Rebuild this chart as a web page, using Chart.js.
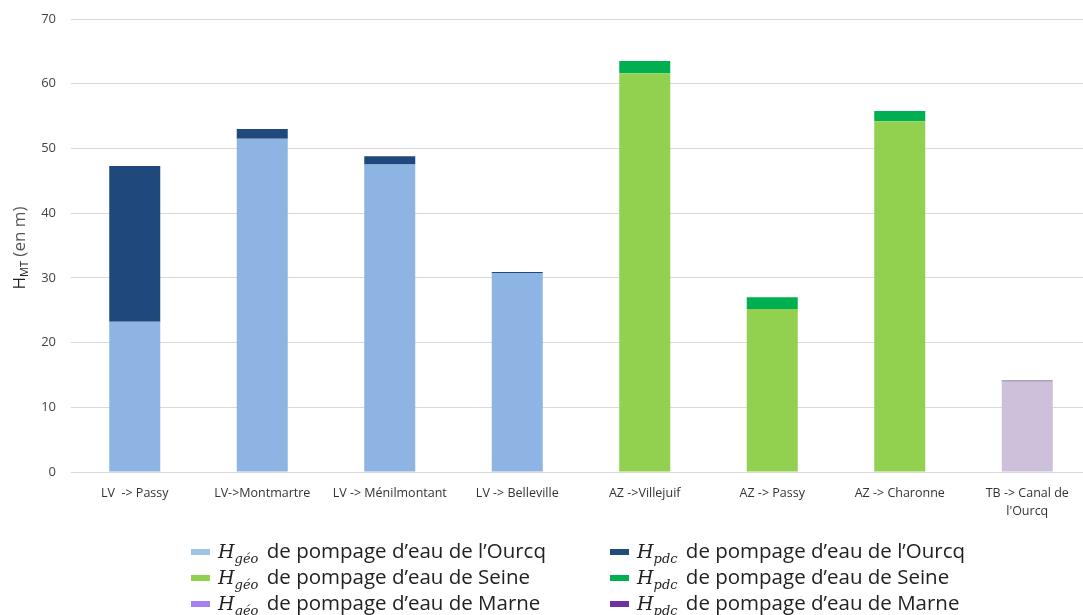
<!DOCTYPE html>
<html>
<head>
<meta charset="utf-8">
<script src="https://cdn.jsdelivr.net/npm/chart.js@4"></script>
<style>
body{margin:0;background:#fff;overflow:hidden;}
#wrap{position:relative;width:1083px;height:615px;overflow:hidden;}
#c{position:absolute;left:0;top:0;}
.leg{position:absolute;font-family:"Open Sans",sans-serif;font-size:20.5px;color:#222;white-space:nowrap;line-height:26px;}
.leg div{height:26px;}
.leg span.m{display:inline-block;width:19px;height:6px;margin-right:8px;vertical-align:middle;position:relative;top:-1px;}
.leg i{font-family:"DejaVu Serif",serif;font-size:19px;}
.leg sub{font-family:"DejaVu Serif",serif;font-style:italic;font-size:13px;margin-right:3px;}
</style>
</head>
<body>
<div id="wrap">
<canvas id="c" width="1095" height="615"></canvas>
<div class="leg" style="left:191px;top:537px;">
<div><span class="m" style="background:#9dc3e6"></span><i>H</i><sub>géo</sub> de pompage d’eau de l’Ourcq</div>
<div><span class="m" style="background:#92d050"></span><i>H</i><sub>géo</sub> de pompage d’eau de Seine</div>
<div><span class="m" style="background:#a680f0"></span><i>H</i><sub>géo</sub> de pompage d’eau de Marne</div>
</div>
<div class="leg" style="left:610px;top:537px;">
<div><span class="m" style="background:#1f4e79"></span><i>H</i><sub>pdc</sub> de pompage d’eau de l’Ourcq</div>
<div><span class="m" style="background:#00b050"></span><i>H</i><sub>pdc</sub> de pompage d’eau de Seine</div>
<div><span class="m" style="background:#7030a0"></span><i>H</i><sub>pdc</sub> de pompage d’eau de Marne</div>
</div>
</div>
<script>

const categories = ["LV  -> Passy","LV->Montmartre","LV -> Ménilmontant","LV -> Belleville","AZ ->Villejuif","AZ -> Passy","AZ -> Charonne",["TB -> Canal de","l'Ourcq"]];

const geoOurcq = [23.2,51.5,47.5,30.75,null,null,null,null];
const pdcOurcq = [24.1,1.5,1.3,0.15,null,null,null,null];
const geoSeine = [null,null,null,null,61.6,25.2,54.2,null];
const pdcSeine = [null,null,null,null,1.9,1.8,1.6,null];
const geoMarne = [null,null,null,null,null,null,null,14.0];
const pdcMarne = [null,null,null,null,null,null,null,0.15];

const yTicks = [0,10,20,30,40,50,60,70];

// y axis title with subscript
const yTitle = {
id:"yTitle",
afterDraw(chart){
const ctx = chart.ctx;
ctx.save();
ctx.translate(20,248);
ctx.rotate(-Math.PI/2);
ctx.fillStyle="#222";
ctx.textBaseline="middle";
ctx.font='17px "Open Sans", sans-serif';
let w1 = ctx.measureText("H").width;
ctx.font='11px "Open Sans", sans-serif';
let w2 = ctx.measureText("MT").width;
ctx.font='17px "Open Sans", sans-serif';
let w3 = ctx.measureText(" (en m)").width;
let x = -(w1+w2+w3)/2;
ctx.fillText("H",x,0);
ctx.font='11px "Open Sans", sans-serif';
ctx.fillText("MT",x+w1,5);
ctx.font='17px "Open Sans", sans-serif';
ctx.fillStyle="#555";
ctx.fillText(" (en m)",x+w1+w2,0);
ctx.restore();
}
};

new Chart(document.getElementById("c"),{
type:"bar",
data:{
labels:categories,
datasets:[
{label:"geoOurcq",data:geoOurcq,backgroundColor:"#8eb4e3"},
{label:"pdcOurcq",data:pdcOurcq,backgroundColor:"#1f497d"},
{label:"geoSeine",data:geoSeine,backgroundColor:"#92d050"},
{label:"pdcSeine",data:pdcSeine,backgroundColor:"#00b050"},
{label:"geoMarne",data:geoMarne,backgroundColor:"#ccc0da"},
{label:"pdcMarne",data:pdcMarne,backgroundColor:"#5f4a6e"}
]
},
options:{
responsive:false,
animation:false,
categoryPercentage:0.5,
barPercentage:0.8,
layout:{padding:{top:19,right:4,left:0,bottom:0}},
plugins:{legend:{display:false},tooltip:{enabled:false}},
scales:{
x:{
stacked:true,
grid:{display:false},
border:{color:"#d9d9d9"},
ticks:{color:"#333",font:{family:"Open Sans",size:12.5,lineHeight:1.4},maxRotation:0,autoSkip:false,padding:5},
afterFit(s){s.height=143;}
},
y:{
stacked:true,
min:0,max:70,
afterBuildTicks(s){s.ticks=yTicks.map(v=>({value:v}));},
grid:{color:"#d9d9d9",drawTicks:false},
border:{display:false},
ticks:{color:"#444",font:{family:"Open Sans",size:13},padding:15},
afterFit(s){s.width=71;s.paddingTop=0;}
}
}
},
plugins:[yTitle]
});

</script>
</body>
</html>
